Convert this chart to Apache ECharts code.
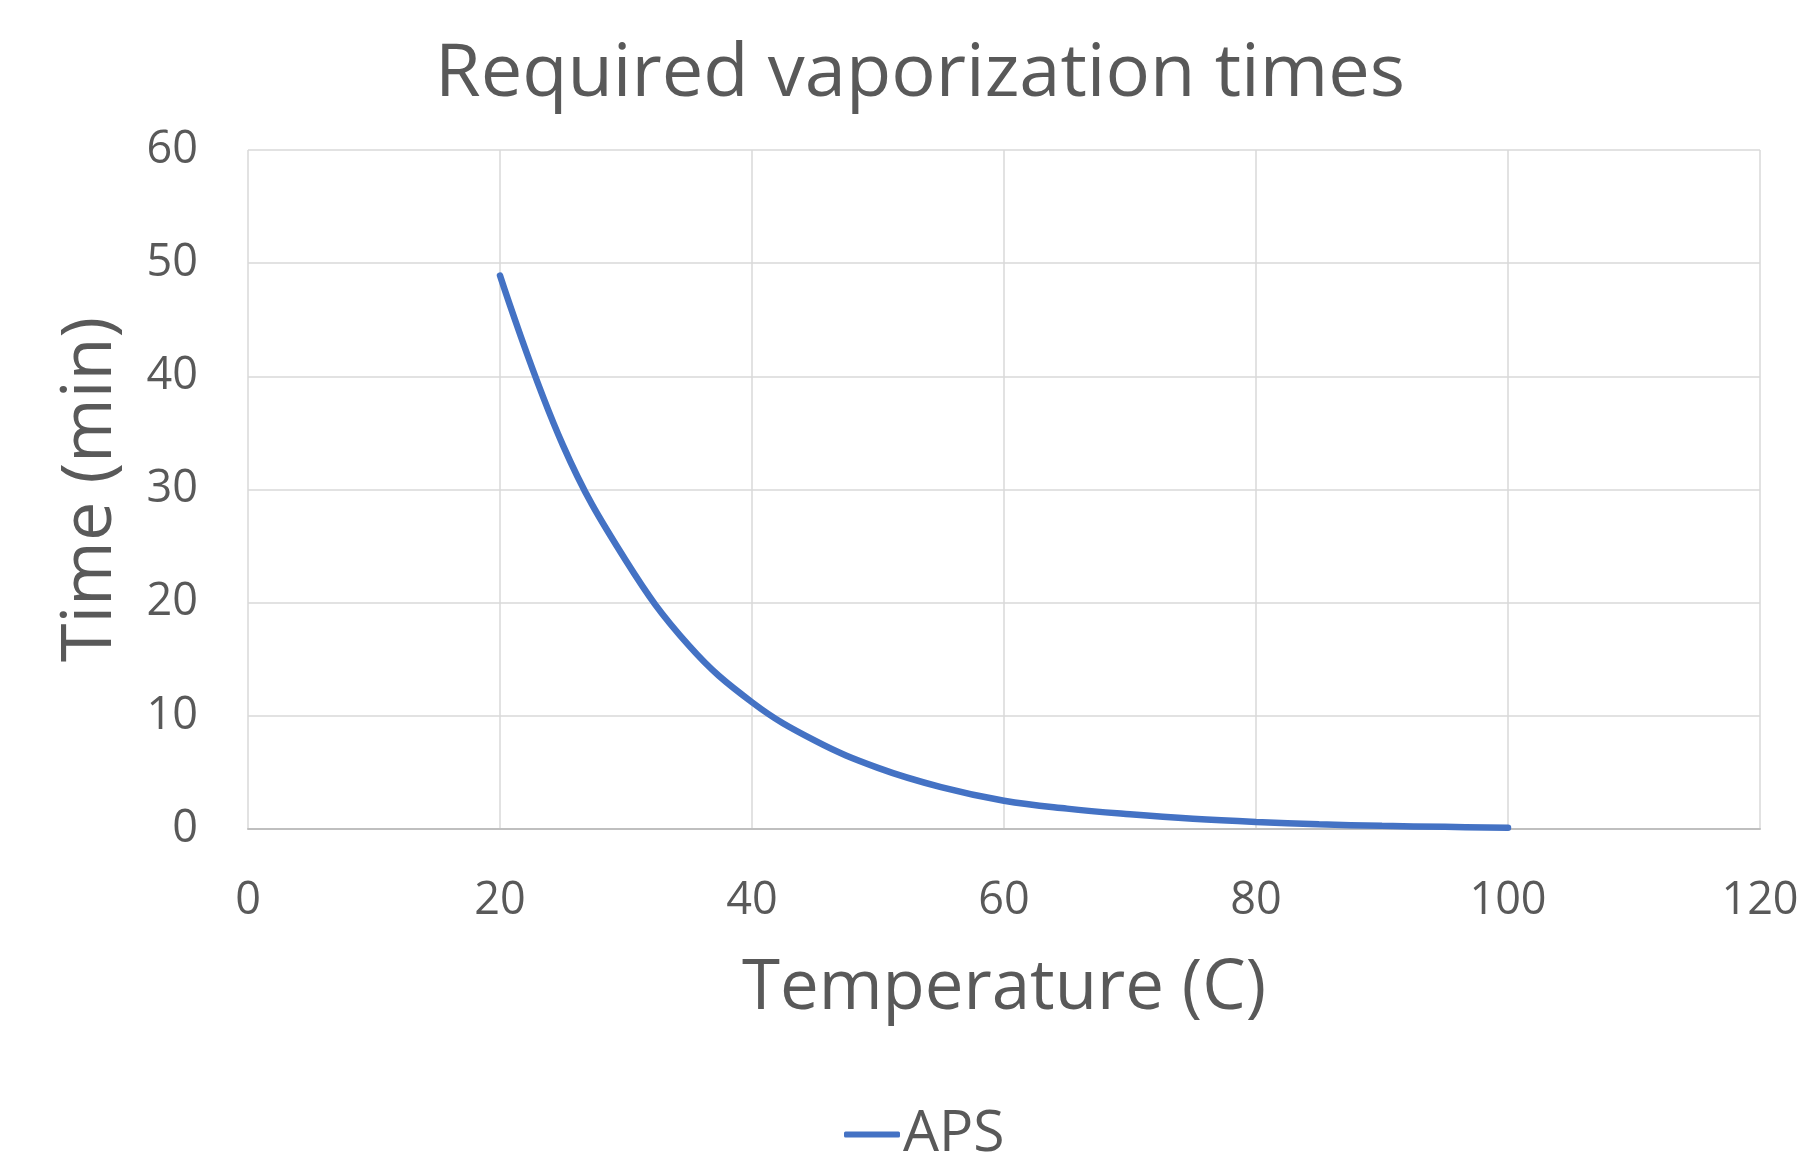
<!DOCTYPE html>
<html>
<head>
<meta charset="utf-8">
<title>Required vaporization times</title>
<script src="https://cdn.jsdelivr.net/npm/echarts@6/dist/echarts.min.js"></script>
<style>
  html, body { margin: 0; padding: 0; background: #fff; }
  #chart { width: 1800px; height: 1156px; }
</style>
</head>
<body>
<div id="chart"></div>
<script>
// Temperature (C) and time (min)
const temperatures = [20, 25, 30, 35, 40, 45, 50, 55, 60, 65, 70, 75, 80, 85, 90, 95, 100];
const apsTimes = [48.9, 33.9, 23.7, 16.2, 11.2, 7.8, 5.4, 3.7, 2.5, 1.8, 1.3, 0.9, 0.62, 0.42, 0.28, 0.19, 0.12];

const xTicks = { min: 0, max: 120, interval: 20 };
const yTicks = { min: 0, max: 60, interval: 10 };

const textColor = '#595959';
const fontFamily = '"Open Sans", sans-serif';

const chart = echarts.init(document.getElementById('chart'));

const option = {
    backgroundColor: '#ffffff',
    animation: false,
    title: {
        text: 'Required vaporization times',
        left: 915,
        top: 33,
        textAlign: 'center',
        textStyle: {
            fontFamily: fontFamily,
            fontSize: 74,
            fontWeight: 'normal',
            color: textColor
        }
    },
    legend: {
        data: ['APS'],
        left: 839,
        top: 1101,
        icon: 'roundRect',
        itemWidth: 56,
        itemHeight: 6,
        textStyle: {
            fontFamily: fontFamily,
            fontSize: 57,
            color: textColor,
            padding: [0, 0, 0, -2]
        }
    },
    grid: {
        left: 248,
        right: 40,
        top: 150,
        bottom: 327,
        containLabel: false,
        outerBoundsMode: 'none'
    },
    xAxis: {
        type: 'value',
        min: xTicks.min,
        max: xTicks.max,
        interval: xTicks.interval,
        name: 'Temperature (C)',
        nameLocation: 'middle',
        nameGap: 126,
        nameTextStyle: {
            fontFamily: fontFamily,
            fontSize: 69,
            color: textColor
        },
        axisLine: { show: true, lineStyle: { color: '#bfbfbf', width: 2 } },
        axisTick: { show: false },
        axisLabel: {
            margin: 50,
            fontFamily: fontFamily,
            fontSize: 45,
            color: textColor
        },
        splitLine: { show: true, lineStyle: { color: '#d9d9d9', width: 1.5 } }
    },
    yAxis: {
        type: 'value',
        min: yTicks.min,
        max: yTicks.max,
        interval: yTicks.interval,
        name: 'Time (min)',
        nameLocation: 'middle',
        nameGap: 122,
        nameTextStyle: {
            fontFamily: fontFamily,
            fontSize: 70,
            color: textColor
        },
        axisLine: { show: false },
        axisTick: { show: false },
        axisLabel: {
            margin: 50,
            fontFamily: fontFamily,
            fontSize: 45,
            color: textColor
        },
        splitLine: { show: true, lineStyle: { color: '#d9d9d9', width: 1.5 } }
    },
    series: [
        {
            name: 'APS',
            type: 'line',
            data: temperatures.map((t, i) => [t, apsTimes[i]]),
            smooth: 0.4,
            symbol: 'none',
            lineStyle: {
                width: 6.5,
                color: '#4472C4',
                cap: 'round'
            },
            itemStyle: { color: '#4472C4' }
        }
    ]
};

chart.setOption(option);
</script>
</body>
</html>
